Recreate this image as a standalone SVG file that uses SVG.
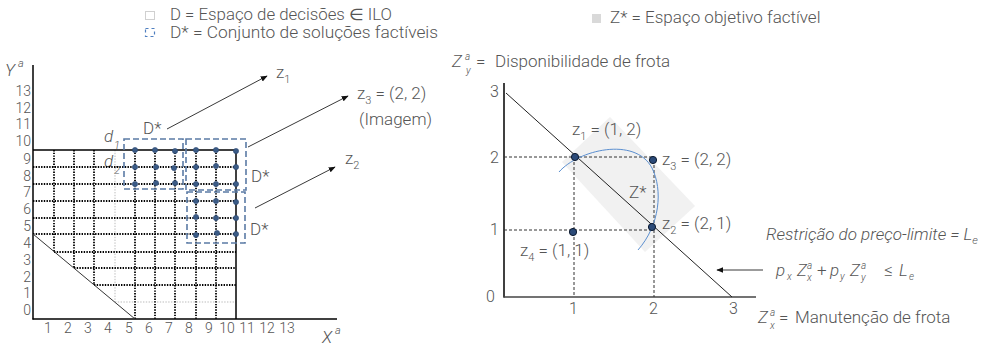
<svg xmlns="http://www.w3.org/2000/svg" width="993" height="346" viewBox="0 0 993 346">
<defs>
<style>
text{font-family:Roboto,"Liberation Sans",Arial,sans-serif;fill:#555;font-weight:300}
.t15{font-size:17px}
.lg{font-size:16px}
.t16{font-size:17px}
.ax{font-size:14px}
.it{font-style:italic}
.sub{font-size:11px}
.grid{stroke:#000;stroke-width:1.8;stroke-dasharray:1.4 1.3;fill:none}
.gg{stroke:#bbb;stroke-width:1;stroke-dasharray:1.4 1.4;fill:none}
.solid{stroke:#000;stroke-width:1.5;fill:none}
.box{stroke:#5b7ba5;stroke-width:1.6;stroke-dasharray:6 3;fill:none}
.dot{fill:#3b5b86;stroke:#2a4670;stroke-width:0.6}
.pt{fill:#2b4a78;stroke:#0c1a30;stroke-width:1}
.arr{stroke:#222;stroke-width:0.9;fill:none;marker-end:url(#ah)}
.dash{stroke:#333;stroke-width:1;stroke-dasharray:3 2;fill:none}
</style>
<marker id="ah" viewBox="0 0 10 10" refX="9" refY="5" markerWidth="7" markerHeight="7" markerUnits="userSpaceOnUse" orient="auto">
<path d="M0,1 L10,5 L0,9 Z" fill="#111"/>
</marker>
</defs>
<rect width="993" height="346" fill="#fff"/>

<g id="legend">
<rect x="145.5" y="11.5" width="9" height="8" fill="none" stroke="#888" stroke-width="0.8" stroke-dasharray="1 1"/>
<text class="lg" x="170" y="20" textLength="222" lengthAdjust="spacingAndGlyphs">D = Espaço de decisões ∈ ILO</text>
<rect x="145.5" y="28.5" width="9" height="8" fill="none" stroke="#4f7fc0" stroke-width="1.2" stroke-dasharray="3 3"/>
<text class="lg" x="170" y="38" textLength="268" lengthAdjust="spacingAndGlyphs">D* = Conjunto de soluções factíveis</text>
<rect x="592" y="14" width="9" height="9" fill="#d9d9d9"/>
<text class="t15" x="610" y="23">Z* = Espaço objetivo factível</text>
</g>

<g id="left-chart">
<g id="left-axes">
<line class="solid" x1="33" y1="65" x2="33" y2="319.5"/>
<line class="solid" x1="32.5" y1="319" x2="337" y2="319"/>
<text class="t16 it" x="5" y="76">Y</text>
<text class="it" font-size="11" x="18" y="67">a</text>
<text class="t16 it" x="322" y="343">X</text>
<text class="it" font-size="11" x="335" y="334">a</text>
<g class="ax" text-anchor="end">
<text x="31" y="96">13</text><text x="31" y="113">12</text><text x="31" y="129">11</text>
<text x="31" y="146">10</text><text x="31" y="164">9</text><text x="31" y="181">8</text>
<text x="31" y="197">7</text><text x="31" y="214">6</text><text x="31" y="231">5</text>
<text x="31" y="248">4</text><text x="31" y="265">3</text><text x="31" y="282">2</text>
<text x="31" y="298">1</text><text x="31" y="315">0</text>
</g>
<g class="ax" text-anchor="middle">
<text x="48" y="333">1</text><text x="68" y="333">2</text><text x="88" y="333">3</text>
<text x="108" y="333">4</text><text x="129" y="333">5</text><text x="149" y="333">6</text>
<text x="169" y="333">7</text><text x="189" y="333">8</text><text x="209" y="333">9</text>
<text x="227" y="333">10</text><text x="247" y="333">11</text><text x="267" y="333">12</text>
<text x="287" y="333">13</text>
</g>
</g>
<text class="t16 it" x="104" y="142">d</text><text class="it" font-size="11" x="114" y="149">1</text>
<text class="t16 it" x="104" y="167">d</text><text class="it" font-size="11" x="114" y="174">2</text>
<g id="grid">
<line class="gg" x1="115" y1="150" x2="115" y2="302"/>
<line class="gg" x1="115" y1="302" x2="236" y2="302"/>
<line class="grid" x1="54" y1="150" x2="54" y2="251.5"/>
<line class="grid" x1="74" y1="150" x2="74" y2="268"/>
<line class="grid" x1="94" y1="150" x2="94" y2="285"/>
<line class="grid" x1="135" y1="150" x2="135" y2="319"/>
<line class="grid" x1="155" y1="150" x2="155" y2="319"/>
<line class="grid" x1="175" y1="150" x2="175" y2="319"/>
<line class="grid" x1="196" y1="150" x2="196" y2="319"/>
<line class="grid" x1="216" y1="150" x2="216" y2="319"/>
<line class="grid" x1="33" y1="167" x2="236" y2="167"/>
<line class="grid" x1="33" y1="184" x2="236" y2="184"/>
<line class="grid" x1="33" y1="201" x2="236" y2="201"/>
<line class="grid" x1="33" y1="218" x2="236" y2="218"/>
<line class="grid" x1="33" y1="234" x2="236" y2="234"/>
<line class="grid" x1="54" y1="252" x2="236" y2="252"/>
<line class="grid" x1="74" y1="268" x2="236" y2="268"/>
<line class="grid" x1="94" y1="285" x2="236" y2="285"/>
<line class="solid" x1="33" y1="150" x2="236" y2="150"/>
<line class="solid" x1="236" y1="150" x2="236" y2="319"/>
<line stroke="#333" stroke-width="1" x1="33" y1="234" x2="135" y2="319"/>
</g>
<g id="feasible-points">
<circle class="dot" cx="135" cy="150" r="2.6"/><circle class="dot" cx="155" cy="150" r="2.6"/><circle class="dot" cx="175" cy="151" r="2.6"/>
<circle class="dot" cx="196" cy="150" r="2.6"/><circle class="dot" cx="216" cy="150" r="2.6"/><circle class="dot" cx="236" cy="151" r="2.6"/>
<circle class="dot" cx="135" cy="167" r="2.6"/><circle class="dot" cx="156" cy="167" r="2.6"/><circle class="dot" cx="174" cy="168" r="2.6"/>
<circle class="dot" cx="196" cy="167" r="2.6"/><circle class="dot" cx="216" cy="166" r="2.6"/><circle class="dot" cx="236" cy="167" r="2.6"/>
<circle class="dot" cx="135" cy="184" r="2.6"/><circle class="dot" cx="156" cy="183" r="2.6"/><circle class="dot" cx="175" cy="183" r="2.6"/>
<circle class="dot" cx="196" cy="184" r="2.6"/><circle class="dot" cx="216" cy="184" r="2.6"/><circle class="dot" cx="236" cy="184" r="2.6"/>
<circle class="dot" cx="196" cy="201" r="2.6"/><circle class="dot" cx="216" cy="201" r="2.6"/><circle class="dot" cx="236" cy="202" r="2.6"/>
<circle class="dot" cx="196" cy="217" r="2.6"/><circle class="dot" cx="216" cy="218" r="2.6"/><circle class="dot" cx="236" cy="218" r="2.6"/>
<circle class="dot" cx="196" cy="235" r="2.6"/><circle class="dot" cx="217" cy="233" r="2.6"/><circle class="dot" cx="236" cy="234" r="2.6"/>
</g>
<g id="dstar-1"><rect class="box" x="124" y="139" width="59" height="50"/><text class="t16" x="143" y="134">D*</text></g>
<g id="dstar-2"><rect class="box" x="186" y="139" width="60" height="51"/><text class="t16" x="251" y="182">D*</text></g>
<g id="dstar-3"><rect class="box" x="187" y="192" width="58" height="51"/><text class="t16" x="250" y="235">D*</text></g>
<g id="z1-label"><text class="t16" x="276" y="78">z<tspan class="sub" dy="5">1</tspan></text></g>
<g id="z3-label"><text class="t16" x="357" y="99">z<tspan class="sub" dy="5">3</tspan><tspan dy="-5"> = (2, 2)</tspan></text>
<text class="t16" x="359" y="125">(Imagem)</text></g>
<g id="z2-label"><text class="t16" x="345" y="164">z<tspan class="sub" dy="5">2</tspan></text></g>
</g>

<g id="connectors">
<line class="arr" x1="167" y1="129" x2="267" y2="76"/>
<line class="arr" x1="248" y1="147" x2="348" y2="96"/>
<line class="arr" x1="255" y1="208" x2="335" y2="167"/>
<line class="arr" x1="763" y1="270" x2="717" y2="270"/>
</g>

<g id="right-chart">
<g id="zstar"><polygon points="610,117 695,206 645,252 562,162" fill="#f1f1f1"/><text class="t16" x="629" y="198">Z*</text></g>
<g id="right-axes">
<line class="solid" x1="504" y1="83" x2="504" y2="297.5"/>
<line stroke="#444" stroke-width="1.5" x1="503.5" y1="297" x2="756" y2="297"/>
<g font-size="16">
<text x="490" y="97">3</text><text x="490" y="163">2</text><text x="490" y="235">1</text><text x="486" y="302">0</text>
<text x="569" y="314">1</text><text x="649" y="314">2</text><text x="729" y="314">3</text>
</g>
<text class="t16 it" x="452" y="67">Z</text><text class="it" font-size="10" x="465" y="60">a</text><text class="it" font-size="10" x="466" y="74">y</text>
<text class="t16" x="476" y="67">=</text>
<text class="t16" x="495" y="67">Disponibilidade de frota</text>
<text class="t16 it" x="758" y="323">Z</text><text class="it" font-size="10" x="770" y="316">a</text><text class="it" font-size="10" x="770" y="329">x</text>
<text class="t16" x="779" y="323">=</text>
<text class="t16" x="795" y="323">Manutenção de frota</text>
</g>
<g id="guides">
<line class="dash" x1="504" y1="157" x2="653" y2="157"/>
<line class="dash" x1="504" y1="230" x2="652" y2="230"/>
<line class="dash" x1="574" y1="157" x2="574" y2="297"/>
<line class="dash" x1="654" y1="160" x2="654" y2="297"/>
</g>
<line stroke="#222" stroke-width="1" x1="506" y1="93" x2="732" y2="297"/>
<path d="M559,172 C578,150 635,136 652,168 C663,190 660,225 638,250" fill="none" stroke="#5b8fd0" stroke-width="1"/>
<g id="z1"><circle class="pt" cx="575" cy="157" r="3.6"/><text class="t16" x="572" y="135">z<tspan class="sub" dy="5">1</tspan><tspan dy="-5"> = (1, 2)</tspan></text></g>
<g id="z3"><circle class="pt" cx="653" cy="160" r="3.6"/><text class="t16" x="662" y="165">z<tspan class="sub" dy="5">3</tspan><tspan dy="-5"> = (2, 2)</tspan></text></g>
<g id="z2"><circle class="pt" cx="652" cy="227" r="3.6"/><text class="t16" x="662" y="229">z<tspan class="sub" dy="5">2</tspan><tspan dy="-5"> = (2, 1)</tspan></text></g>
<g id="z4"><circle class="pt" cx="573" cy="232" r="3.6"/><text class="t16" x="520" y="256">z<tspan class="sub" dy="5">4</tspan><tspan dy="-5"> = (1, 1)</tspan></text></g>
<g id="constraint">
<text class="t15 it" x="766" y="240">Restrição do preço-limite = L<tspan class="sub" dy="4">e</tspan></text>
<text class="t16 it" x="776" y="276">p</text><text class="it" font-size="10" x="787" y="280">x</text>
<text class="t16 it" x="797" y="276">Z</text><text class="it" font-size="10" x="807" y="269">a</text><text class="it" font-size="10" x="807" y="281">x</text>
<text class="t16" x="817" y="276">+</text>
<text class="t16 it" x="830" y="276">p</text><text class="it" font-size="10" x="840" y="280">y</text>
<text class="t16 it" x="850" y="276">Z</text><text class="it" font-size="10" x="861" y="269">a</text><text class="it" font-size="10" x="861" y="281">y</text>
<text class="t16" x="884" y="276">≤</text>
<text class="t16 it" x="899" y="276">L</text><text class="it" font-size="10" x="909" y="280">e</text>
</g>
</g>
</svg>
